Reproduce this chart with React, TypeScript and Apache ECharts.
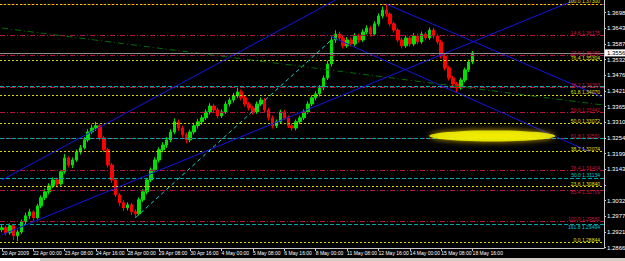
import React, { useEffect, useRef } from 'react';
import * as echarts from 'echarts';

// ---- data ----
const timeLabels = ['20 Apr 2009', '22 Apr 00:00', '23 Apr 08:00', '24 Apr 16:00', '28 Apr 00:00', '29 Apr 08:00', '30 Apr 16:00', '4 May 00:00', '5 May 08:00', '6 May 16:00', '8 May 00:00', '11 May 08:00', '12 May 16:00', '14 May 00:00', '15 May 08:00', '18 May 16:00'];
const BARS_PER_LABEL = 8;
const SLOTS = 154;

// [open, close, low, high]
const candles = [
  [1.2930, 1.2937, 1.2921, 1.2948], [1.2937, 1.2919, 1.2910, 1.2945], [1.2919, 1.2944, 1.2912, 1.2952], [1.2944, 1.2908, 1.2893, 1.2950],
  [1.2908, 1.2922, 1.2890, 1.2930], [1.2922, 1.2958, 1.2915, 1.2966], [1.2958, 1.2979, 1.2950, 1.2990], [1.2979, 1.2993, 1.2968, 1.3004],
  [1.2993, 1.2972, 1.2962, 1.2999], [1.2972, 1.3014, 1.2966, 1.3022], [1.3014, 1.3043, 1.3006, 1.3052], [1.3043, 1.3064, 1.3035, 1.3075],
  [1.3064, 1.3085, 1.3055, 1.3094], [1.3085, 1.3106, 1.3078, 1.3115], [1.3106, 1.3092, 1.3080, 1.3114], [1.3092, 1.3135, 1.3086, 1.3142],
  [1.3135, 1.3184, 1.3128, 1.3198], [1.3184, 1.3159, 1.3150, 1.3190], [1.3159, 1.3177, 1.3148, 1.3186], [1.3177, 1.3205, 1.3170, 1.3214],
  [1.3205, 1.3220, 1.3196, 1.3230], [1.3220, 1.3248, 1.3214, 1.3258], [1.3248, 1.3276, 1.3240, 1.3286], [1.3276, 1.3290, 1.3268, 1.3302],
  [1.3290, 1.3298, 1.3280, 1.3312], [1.3298, 1.3255, 1.3246, 1.3305], [1.3255, 1.3213, 1.3204, 1.3262], [1.3213, 1.3159, 1.3150, 1.3220],
  [1.3159, 1.3106, 1.3096, 1.3166], [1.3106, 1.3053, 1.3045, 1.3112], [1.3053, 1.3025, 1.3014, 1.3060], [1.3025, 1.3007, 1.2996, 1.3034],
  [1.3007, 1.3018, 1.2998, 1.3027], [1.3018, 1.2993, 1.2982, 1.3025], [1.2993, 1.2986, 1.2972, 1.3002], [1.2986, 1.3036, 1.2980, 1.3044],
  [1.3036, 1.3064, 1.3028, 1.3073], [1.3064, 1.3106, 1.3056, 1.3114], [1.3106, 1.3142, 1.3098, 1.3150], [1.3142, 1.3177, 1.3134, 1.3186],
  [1.3177, 1.3213, 1.3168, 1.3222], [1.3213, 1.3230, 1.3204, 1.3240], [1.3230, 1.3248, 1.3220, 1.3258], [1.3248, 1.3276, 1.3240, 1.3286],
  [1.3276, 1.3312, 1.3268, 1.3324], [1.3312, 1.3290, 1.3280, 1.3320], [1.3290, 1.3266, 1.3256, 1.3298], [1.3266, 1.3248, 1.3236, 1.3274],
  [1.3248, 1.3276, 1.3240, 1.3284], [1.3276, 1.3298, 1.3268, 1.3306], [1.3298, 1.3312, 1.3288, 1.3322], [1.3312, 1.3326, 1.3302, 1.3336],
  [1.3326, 1.3347, 1.3318, 1.3356], [1.3347, 1.3368, 1.3338, 1.3378], [1.3368, 1.3354, 1.3344, 1.3376], [1.3354, 1.3333, 1.3324, 1.3362],
  [1.3333, 1.3347, 1.3326, 1.3356], [1.3347, 1.3375, 1.3340, 1.3384], [1.3375, 1.3389, 1.3366, 1.3398], [1.3389, 1.3404, 1.3380, 1.3414],
  [1.3404, 1.3418, 1.3396, 1.3432], [1.3418, 1.3397, 1.3388, 1.3426], [1.3397, 1.3375, 1.3366, 1.3404], [1.3375, 1.3361, 1.3352, 1.3382],
  [1.3361, 1.3347, 1.3338, 1.3368], [1.3347, 1.3375, 1.3340, 1.3384], [1.3375, 1.3389, 1.3368, 1.3398], [1.3389, 1.3354, 1.3346, 1.3396],
  [1.3354, 1.3326, 1.3316, 1.3362], [1.3326, 1.3298, 1.3288, 1.3334], [1.3298, 1.3312, 1.3290, 1.3320], [1.3312, 1.3347, 1.3304, 1.3355],
  [1.3347, 1.3326, 1.3318, 1.3354], [1.3326, 1.3298, 1.3290, 1.3334], [1.3298, 1.3290, 1.3280, 1.3306], [1.3290, 1.3312, 1.3282, 1.3320],
  [1.3312, 1.3326, 1.3304, 1.3334], [1.3326, 1.3347, 1.3318, 1.3356], [1.3347, 1.3375, 1.3340, 1.3384], [1.3375, 1.3397, 1.3368, 1.3406],
  [1.3397, 1.3411, 1.3388, 1.3420], [1.3411, 1.3432, 1.3402, 1.3442], [1.3432, 1.3467, 1.3424, 1.3476], [1.3467, 1.3517, 1.3460, 1.3528],
  [1.3517, 1.3602, 1.3508, 1.3614], [1.3602, 1.3623, 1.3592, 1.3636], [1.3623, 1.3609, 1.3598, 1.3632], [1.3609, 1.3581, 1.3572, 1.3616],
  [1.3581, 1.3602, 1.3574, 1.3612], [1.3602, 1.3588, 1.3578, 1.3610], [1.3588, 1.3616, 1.3580, 1.3626], [1.3616, 1.3602, 1.3592, 1.3624],
  [1.3602, 1.3630, 1.3595, 1.3640], [1.3630, 1.3644, 1.3622, 1.3654], [1.3644, 1.3623, 1.3614, 1.3652], [1.3623, 1.3659, 1.3616, 1.3668],
  [1.3659, 1.3687, 1.3650, 1.3696], [1.3687, 1.3708, 1.3678, 1.3720], [1.3708, 1.3694, 1.3684, 1.3729], [1.3694, 1.3659, 1.3650, 1.3700],
  [1.3659, 1.3637, 1.3628, 1.3666], [1.3637, 1.3602, 1.3594, 1.3644], [1.3602, 1.3581, 1.3572, 1.3610], [1.3581, 1.3609, 1.3574, 1.3618],
  [1.3609, 1.3588, 1.3578, 1.3616], [1.3588, 1.3616, 1.3580, 1.3626], [1.3616, 1.3595, 1.3586, 1.3624], [1.3595, 1.3623, 1.3588, 1.3632],
  [1.3623, 1.3609, 1.3600, 1.3630], [1.3609, 1.3637, 1.3602, 1.3646], [1.3637, 1.3616, 1.3606, 1.3644], [1.3616, 1.3595, 1.3586, 1.3622],
  [1.3595, 1.3545, 1.3536, 1.3602], [1.3545, 1.3503, 1.3494, 1.3552], [1.3503, 1.3467, 1.3458, 1.3510], [1.3467, 1.3446, 1.3436, 1.3474],
  [1.3446, 1.3432, 1.3418, 1.3454], [1.3432, 1.3460, 1.3426, 1.3468], [1.3460, 1.3496, 1.3452, 1.3504], [1.3496, 1.3524, 1.3488, 1.3532],
  [1.3524, 1.35561, 1.3516, 1.3563],
];

const priceTicks = [1.28660, 1.29215, 1.29770, 1.30325, 1.30880, 1.31435, 1.31990, 1.32545, 1.33100, 1.33655, 1.34210, 1.34765, 1.35320, 1.35875, 1.36430, 1.36985];
// the 1.30880 label is covered by the red price box in the reference
const priceLabels = [1.28660, 1.29215, 1.29770, 1.30325, 1.31435, 1.31990, 1.32545, 1.33100, 1.33655, 1.34210, 1.34765, 1.35320, 1.35875, 1.36430, 1.36985];
const priceMin = 1.28650;
const priceMax = 1.37435;
const lastPrice = 1.35561;
const alertPrice = 1.30970;

// fibonacci sets ('' = level drawn without a label)
const redFibLevels = ['', '14.6', '23.6', '38.2', '50.0', '61.8', '76.4', '85.4', '100.0'];
const redFibPrices = [1.37302, 1.36175, 1.35480, 1.34353, 1.33442, 1.32531, 1.31404, 1.30709, 1.29582];
const yellowFibLevels = ['0.0', '23.6', '38.2', '50.0', '61.8', '76.4', '100.0'];
const yellowFibPrices = [1.28844, 1.30840, 1.32074, 1.33072, 1.34070, 1.35304, 1.37300];
const cyanFibLevels = ['', '', '50.0', '161.8'];
const cyanFibPrices = [1.34373, 1.32544, 1.31134, 1.29494];

// trend lines: [startIndex, startPrice, endIndex, endPrice]
const blueLines = [
  [0, 1.3106, 85, 1.3743],
  [0, 1.2912, 146, 1.3743],
  [98, 1.3729, 153, 1.3400],
  [84, 1.3613, 150, 1.3205],
];
const cyanDiagonal = [34, 1.2972, 84, 1.3602];
const greenLine = [0, 1.3644, 153, 1.3372];
const ellipseCenter = [125, 1.32621];

const FONT = 'Liberation Sans';

export default function App() {
  const ref = useRef<HTMLDivElement>(null);
  useEffect(() => {
    document.body.style.margin = '0';
    const chart = echarts.init(ref.current!, null, { renderer: 'svg' });
    const categories = Array.from({ length: SLOTS }, (_, i) =>
      i % BARS_PER_LABEL === 0 && i / BARS_PER_LABEL < timeLabels.length ? timeLabels[i / BARS_PER_LABEL] : ' ' + i
    );
    const isLabelIdx = (i: number) => i % BARS_PER_LABEL === 0 && i / BARS_PER_LABEL < timeLabels.length;

    const fibLine = (price: number, level: string, color: string, type: any, labelColor: string, below = false) => ({
      yAxis: price,
      lineStyle: { color, type, width: 1 },
      label: {
        show: level !== '',
        position: below ? 'insideEndBottom' : 'insideEndTop',
        formatter: `${level} ${price.toFixed(5)}`,
        color: labelColor,
        fontSize: 5,
        fontFamily: FONT,
        distance: [4, 0],
      },
    });
    const seg = (l: number[], color: string, type: any) => [
      { coord: [l[0], l[1]], lineStyle: { color, type, width: 1 }, label: { show: false } },
      { coord: [l[2], l[3]] },
    ];

    const markData: any[] = [];
    redFibPrices.forEach((p, i) => markData.push(fibLine(p, redFibLevels[i], '#b4143c', [5, 2, 1, 2], '#c8143c', redFibLevels[i] === '85.4')));
    yellowFibPrices.forEach((p, i) => markData.push(fibLine(p, yellowFibLevels[i], '#d8d800', [2, 2], '#e0e000')));
    cyanFibPrices.forEach((p, i) => markData.push(fibLine(p, cyanFibLevels[i], '#00a8a8', [4, 2], '#00c8c8', cyanFibLevels[i] === '161.8')));
    blueLines.forEach((l) => markData.push(seg(l, '#1414e6', 'solid')));
    markData.push(seg(cyanDiagonal, '#20c8c8', [4, 3]));
    markData.push(seg(greenLine, '#006e00', [6, 3, 1, 3]));
    markData.push({
      yAxis: lastPrice,
      lineStyle: { color: '#8c8c8c', type: 'solid', width: 1 },
      label: {
        show: true, position: 'end', formatter: lastPrice.toFixed(5), backgroundColor: '#ffffff', color: '#000',
        fontSize: 6, fontFamily: FONT, padding: [1, 2, 0, 2], distance: 1,
      },
    });
    markData.push({
      yAxis: alertPrice,
      lineStyle: { opacity: 0 },
      label: {
        show: true, position: 'end', formatter: alertPrice.toFixed(5), backgroundColor: '#ff0000', color: '#ff0000',
        fontSize: 6, fontFamily: FONT, padding: [1, 2, 0, 2], distance: 1,
      },
    });

    chart.setOption({
      animation: false,
      backgroundColor: '#000000',
      grid: { left: 0, right: 21, top: 0, bottom: 13, containLabel: false, outerBoundsMode: 'none' },
      xAxis: {
        type: 'category',
        data: categories,
        boundaryGap: true,
        axisLine: { show: true, lineStyle: { color: '#c8c8c8', width: 1 } },
        axisTick: { show: true, alignWithLabel: true, interval: (i: number) => isLabelIdx(i), length: 3, lineStyle: { color: '#c8c8c8' } },
        axisLabel: {
          show: true,
          interval: (i: number) => isLabelIdx(i),
          formatter: (v: string) => (v.startsWith(' ') ? '' : v),
          align: 'left',
          color: '#ffffff',
          fontSize: 5,
          fontFamily: FONT,
          margin: 2,
          hideOverlap: false,
        },
        splitLine: { show: false },
      },
      yAxis: {
        type: 'value',
        position: 'right',
        min: priceMin,
        max: priceMax,
        scale: true,
        splitLine: { show: false },
        axisLine: { show: true, lineStyle: { color: '#c8c8c8', width: 1 } },
        axisTick: { show: true, customValues: priceTicks, length: 2, lineStyle: { color: '#c8c8c8' } },
        axisLabel: {
          show: true, customValues: priceLabels, formatter: (v: number) => v.toFixed(5),
          color: '#ffffff', fontSize: 6, fontFamily: FONT, margin: 3,
        },
      },
      series: [
        {
          type: 'candlestick',
          data: candles,
          barWidth: 3,
          itemStyle: { color: '#00e000', color0: '#ff0000', borderColor: '#00e000', borderColor0: '#ff0000', borderWidth: 1 },
          markLine: { symbol: 'none', silent: true, animation: false, precision: 6, data: markData },
          z: 3,
        },
        {
          type: 'scatter',
          data: [ellipseCenter],
          symbol: 'circle',
          symbolSize: [126, 11],
          itemStyle: { color: '#ffff00', shadowBlur: 6, shadowColor: '#ffd000' },
          silent: true,
          z: 5,
        },
      ],
      graphic: [
        { type: 'rect', left: 0, bottom: 0, shape: { width: 625, height: 3 }, style: { fill: '#d4d0c8' }, silent: true },
        { type: 'rect', left: 0, bottom: 0, shape: { width: 40, height: 3 }, style: { fill: '#ffffff' }, silent: true },
      ],
    });
    return () => chart.dispose();
  }, []);
  return <div ref={ref} style={{ width: 625, height: 261, background: '#000' }} />;
}
